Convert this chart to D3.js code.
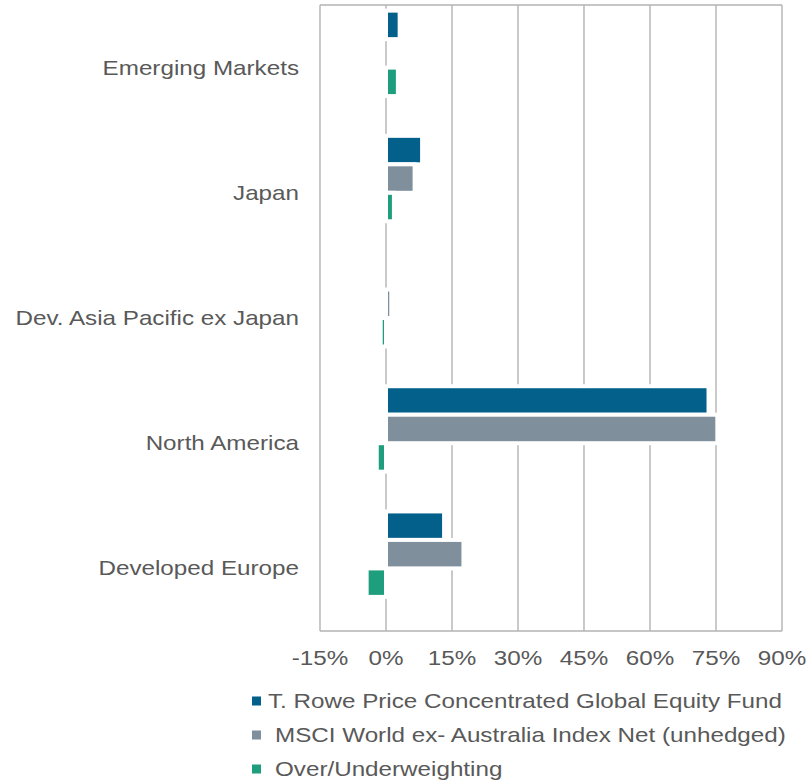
<!DOCTYPE html>
<html lang="en">
<head>
<meta charset="UTF-8">
<title>Regional weights</title>
<style>
  body { margin:0; background:#fff; }
  #CHART { display:block; }
  #CHART text { font-family: "Liberation Sans", Arial, sans-serif; font-size: 20.7px; fill:#595959; }
</style>
</head>
<body>
<svg id="CHART" width="807" height="781"></svg>
<script src="https://cdnjs.cloudflare.com/ajax/libs/d3/7.8.5/d3.min.js"></script>
<script>
// regions, top to bottom
const regions = ["Emerging Markets", "Japan", "Dev. Asia Pacific ex Japan", "North America", "Developed Europe"];
const seriesNames = [
  "T. Rowe Price Concentrated Global Equity Fund",
  "MSCI World ex- Australia Index Net (unhedged)",
  "Over/Underweighting"
];
const fundWeights  = [3.1, 8.2, 0, 73.3, 13.2];
const indexWeights = [0, 6.5, 1.2, 75.3, 17.6];
const overUnder    = [2.7, 1.8, -1.2, -2.1, -4.4];
const xTicks = [-15, 0, 15, 30, 45, 60, 75, 90];
const colors = ["#02608a", "#7f8f9c", "#1e9e7c"];

const allSeries = [fundWeights, indexWeights, overUnder];
const stretch = 1.17; // text in the original is a little wider than it is tall

const svg = d3.select("#CHART");
const plot = { left: 320, right: 782, top: 5, bottom: 631 };

const x = d3.scaleLinear().domain([-15, 90]).range([plot.left, plot.right]);
const y = d3.scaleBand().domain(regions).range([plot.top, plot.bottom])
  .paddingInner(0.09).paddingOuter(0.045);
// 4 slots per group: the original had an empty 4th series, so bars sit high in each band
const ySeries = d3.scaleBand().domain(d3.range(4)).range([0, y.bandwidth()]);

// grid + box
const grid = svg.append("g").attr("stroke", "#b3b3b3").attr("stroke-width", 1.4);
grid.selectAll("line.v").data(xTicks).join("line")
  .attr("class", "v")
  .attr("x1", d => x(d)).attr("x2", d => x(d))
  .attr("y1", plot.top).attr("y2", plot.bottom);
grid.append("line").attr("x1", plot.left).attr("x2", plot.right).attr("y1", plot.top).attr("y2", plot.top);
grid.append("line").attr("x1", plot.left).attr("x2", plot.right).attr("y1", plot.bottom).attr("y2", plot.bottom);

// bars
const bars = [];
allSeries.forEach(function(vals, s){
  vals.forEach(function(v, i){ bars.push({ region: regions[i], s: s, value: v }); });
});
svg.append("g").selectAll("rect").data(bars.filter(d => d.value !== 0)).join("rect")
  .attr("x", d => x(Math.min(0, d.value)))
  .attr("width", d => Math.abs(x(d.value) - x(0)))
  .attr("y", d => y(d.region) + ySeries(d.s))
  .attr("height", ySeries.bandwidth())
  .attr("fill", d => colors[d.s])
  .attr("stroke", "#fff")
  .attr("stroke-width", 4);

// x tick labels
svg.append("g").selectAll("text").data(xTicks).join("text")
  .attr("transform", d => "translate(" + x(d) + ",665) scale(" + stretch + ",1)")
  .attr("text-anchor", "middle")
  .text(d => d + "%");

// category labels
svg.append("g").selectAll("text").data(regions).join("text")
  .attr("transform", d => "translate(299," + (y(d) - y.step() * 0.045 + y.step() / 2 + 7) + ") scale(" + stretch + ",1)")
  .attr("text-anchor", "end")
  .text(d => d);

// legend
const legendDx = [0, 7, 7];
const legend = svg.append("g").selectAll("g").data(seriesNames).join("g")
  .attr("transform", (d, i) => "translate(252," + (707.5 + i * 34) + ")");
legend.append("rect")
  .attr("x", 0).attr("y", -11).attr("width", 9).attr("height", 9)
  .attr("fill", (d, i) => colors[i]);
legend.append("text")
  .attr("transform", (d, i) => "translate(" + (16 + legendDx[i]) + ",0) scale(" + stretch + ",1)")
  .text(d => d);
</script>
</body>
</html>
